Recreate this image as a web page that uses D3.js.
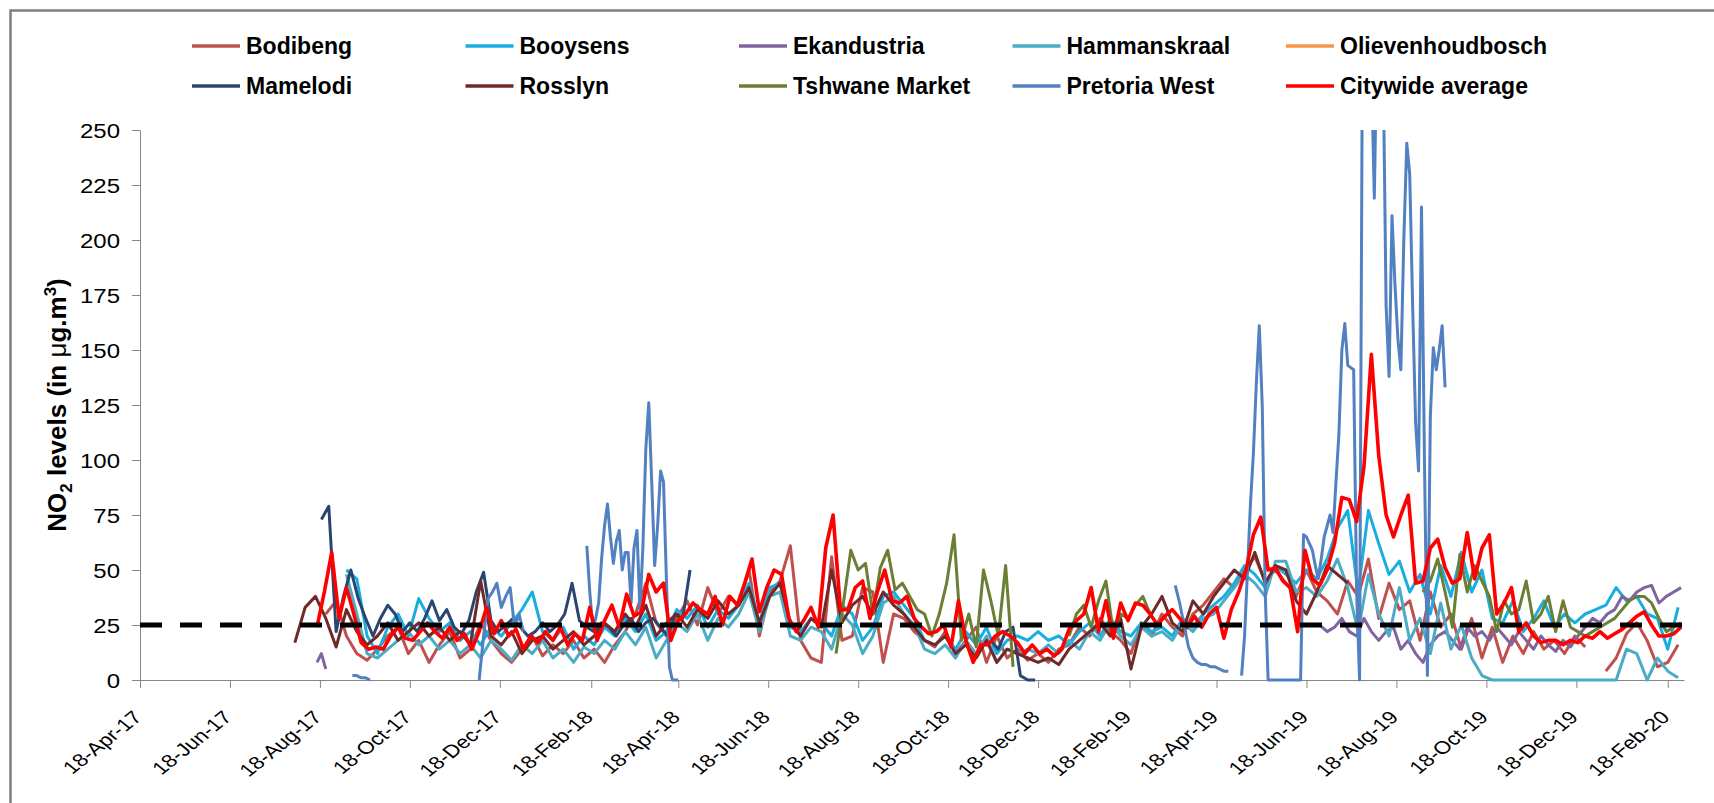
<!DOCTYPE html>
<html>
<head>
<meta charset="utf-8">
<script src="https://cdn.jsdelivr.net/npm/d3@7"></script>
<style>
  body { margin: 0; background: #fff; }
  svg { display: block; font-family: Arial, "Liberation Sans", sans-serif; }
</style>
</head>
<body>
<svg id="chart" width="1714" height="803"></svg>
<script>
// NO2 monitoring stations, Tshwane. Each series is a list of runs:
// [first date, days between readings, readings in µg/m³]; null = missing reading.
const seriesNames = ["Bodibeng", "Booysens", "Ekandustria", "Hammanskraal", "Olievenhoudbosch",
                     "Mamelodi", "Rosslyn", "Tshwane Market", "Pretoria West", "Citywide average"];
const seriesColors = ["#C0504D", "#1AADE0", "#8064A2", "#4BACC6", "#F79646",
                      "#2A4670", "#70292A", "#6A7F34", "#5181C0", "#FF0000"];

const bodibeng = [["2017-08-22", 7, [
  30,36,20,12,9,14,20,24,12,18, 8,16,22,10,14,26,18,12,8,14,
  20,11,16,12,18,10,14,8,16,22, 30,44,26,20,28,36,25,42,30,38,
  34,50,20,40,45,61,18,10,8,56, 18,20,42,40,8,30,28,22,18,15,
  22,12,18,24,8,20,10,14,9,12, 8,14,16,24,20,28,22,18,12,26,
  20,30,24,20,30,34,40,46,42,50, 56,45,50,44,38,50,40,36,30,45,
  38,55,28,44,32,36,18,40,24,30, 14,28,10,24,8,20,12,22,14,18,
  12,20,15,null,4,10,21,26,18,6, 8,16]]];

const booysens = [["2017-09-05", 7, [
  50,46,20,12,24,30,20,37,28,22, 26,18,22,16,24,20,26,32,40,22,
  18,24,14,20,16,24,20,28,22,30, 18,22,32,28,34,24,32,28,34,44,
  26,42,44,24,22,28,26,20,34,30, 18,24,38,40,34,28,18,16,20,14,
  22,16,24,12,18,20,18,22,18,20, 16,22,26,20,28,22,20,26,22,24,
  20,28,24,30,34,38,44,52,48,42, 52,48,44,50,46,55,69,77,40,77,
  62,48,54,40,48,30,52,38,58,40, 50,28,26,36,22,28,36,24,30,26,
  30,32,34,42,36,38,30,28,14,33]]];

const ekandustria = [
  ["2017-08-16", 3, [8,12,5]],
  ["2019-06-27", 5, [
    25,22,24,28,22,20,28,22,18,22, 24,14,18,12,8,16,20,22,18,14,
    24,20,22,18,24,20,16,22,18,14, 20,16,13,18,15,20,24,28,26,30,
    32,38,36,40,42,43,35,38,40,42]]];

const hammanskraal = [["2017-09-05", 7, [
  48,30,12,10,14,18,22,16,20,14, 18,12,16,10,18,14,9,16,12,18,
  10,14,8,15,12,18,14,22,16,24, 10,18,26,22,30,18,28,24,30,40,
  22,38,40,20,18,24,22,14,30,25, 12,20,35,38,30,25,14,12,16,10,
  18,12,20,8,14,12,14,12,16,12, 18,14,22,18,26,20,16,24,20,22,
  18,26,22,28,30,36,42,48,44,38, 54,54,40,42,38,45,55,42,22,48,
  30,20,42,18,28,12,35,14,25,10, 2,0,0,0,0,0,0,0,0,0,
  0,0,0,0,14,12,0,10,4,1]]];

const olievenhoudbosch = [];

const mamelodi = [
  ["2017-08-19", 5, [
    73,79,22,38,50,37,28,20,28,34, 30,22,26,22,28,36,27,32,24,21,
    27,40,49,27,22,25,28,24,20,22, 26,22,25,30,44,27,24,22,26,24,
    20,25,28,22,26,28,24,20,30,28, 50]],
  ["2018-11-16", 5, [18,14,22,24,2,0,0]]];

const rosslyn = [["2017-08-01", 7, [
  17,33,38,28,15,32,22,16,20,26, 18,22,26,20,24,18,22,16,45,20,
  16,22,12,18,20,14,18,22,16,20, 26,22,30,24,34,20,26,30,24,32,
  28,36,30,34,42,26,38,44,26,20, 28,24,50,26,34,38,30,40,34,30,
  24,18,16,20,12,16,10,18,8,14, 12,10,8,10,7,14,18,22,26,20,
  28,5,24,30,38,26,22,36,30,38, 44,50,46,58,44,52,50,36,30,40,
  52,48,44]]];

const tshwaneMarket = [
  ["2018-08-03", 5, [12,35,59,50,53,30,51,59,41,44, 38,32,30,20,30,44,66,18,30,15, 50,36,20,52,6]],
  ["2019-01-08", 5, [20,30,34,24,36,45,22,30,28,34,38,30]],
  ["2019-09-05", 5, [
    40,45,55,40,24,57,40,52,45,38, 22,36,30,32,45,26,30,38,22,36,
    24,22,20,22,24,26,28,32,36,38, 38,35,28,22,24,26]]];

const pretoriaWest = [
  ["2017-09-09", 3, [2,2,1,1,0]],
  ["2017-12-04", 3, [0,20,37,40,44,33,38,42,24,30,22]],
  ["2018-02-15", 2, [
    61,40,24,28,35,55,70,80,65,53, 63,68,50,58,58,35,60,68,32,60,
    105,126,90,52,70,95,90,45,6,0, 0,0]],
  ["2019-03-21", 3, [43,35,25,15,10,8,7,7,6,6,5,4,4]],
  ["2019-05-05", 2, [
    2,20,50,80,103,135,161,125,40,0, 0,0,0,0,0,0,0,0,0,0,
    0,66,65,62,59,52,46,55,65,70, 75,67,90,112,150,162,143,142,141,40,
    0,300,300,300,280,219,300,300,280,170, 138,211,180,155,141,200,244,230,170,117,
    95,215,100,2,120,151,141,150,161,133]]];

const citywideAverage = [["2017-08-16", 5, [
  24,40,58,28,42,30,17,14,15,14, 20,24,19,18,22,26,22,19,24,18,
  21,14,22,33,21,27,20,23,14,20, 17,22,18,24,16,21,18,33,18,27,
  34,24,39,29,31,48,40,44,18,27, 30,35,32,30,38,25,38,34,44,55,
  31,42,50,48,28,22,27,33,24,60, 75,32,32,42,45,28,40,50,36,35,
  38,28,24,21,22,25,15,36,18,8, 16,16,20,22,20,17,12,16,12,14,
  11,14,23,27,30,42,22,36,19,35, 27,35,34,30,25,29,32,28,24,29,
  24,30,33,19,32,40,50,66,74,50, 51,45,42,22,59,46,43,50,62,83,
  82,72,97,148,102,75,65,75,84,44, 45,60,64,51,44,46,67,46,60,66,
  30,35,42,22,26,20,17,18,18,16, 18,17,20,19,22,19,21,23,26,29,
  31,25,20,20,21,24]]];

const guidelineValue = 25;
const yTicks = [0, 25, 50, 75, 100, 125, 150, 175, 200, 225, 250];
const xTickDates = ["2017-04-18","2017-06-18","2017-08-18","2017-10-18","2017-12-18",
  "2018-02-18","2018-04-18","2018-06-18","2018-08-18","2018-10-18","2018-12-18",
  "2019-02-18","2019-04-18","2019-06-18","2019-08-18","2019-10-18","2019-12-18","2020-02-18"];
const xDomain = ["2017-04-18", "2020-02-29"];

const allSeries = [bodibeng, booysens, ekandustria, hammanskraal, olievenhoudbosch,
                   mamelodi, rosslyn, tshwaneMarket, pretoriaWest, citywideAverage];

// ---------------------------------------------------------------------------
const parse = d3.utcParse("%Y-%m-%d");
const fmt = d3.utcFormat("%d-%b-%y");
const plot = { left: 140, right: 1684, top: 130, bottom: 680 };

const x = d3.scaleUtc().domain(xDomain.map(parse)).range([plot.left, plot.right]);
const y = d3.scaleLinear().domain([0, 250]).range([plot.bottom, plot.top]);

const svg = d3.select("#chart");
const axisGrey = "#868686";

// chart frame
svg.append("rect")
  .attr("x", 10.5).attr("y", 10.5).attr("width", 2000).attr("height", 2000)
  .attr("fill", "none").attr("stroke", "#808080").attr("stroke-width", 2.5);

// clip for the plot area
svg.append("clipPath").attr("id", "plotClip")
  .append("rect")
  .attr("x", plot.left).attr("y", plot.top)
  .attr("width", plot.right - plot.left).attr("height", plot.bottom - plot.top + 3);

// y axis
const yAxis = svg.append("g")
  .attr("transform", `translate(${plot.left},0)`)
  .call(d3.axisLeft(y).tickValues(yTicks).tickSize(8).tickSizeOuter(0));
yAxis.select(".domain").attr("stroke", axisGrey);
yAxis.selectAll(".tick line").attr("stroke", axisGrey);
yAxis.selectAll(".tick text")
  .attr("x", null).attr("dy", null)
  .attr("text-anchor", "end")
  .attr("font-size", 19.5)
  .attr("fill", "#000")
  .attr("transform", "translate(-20,7) scale(1.23,1)");

// x axis, labels slanted
const xAxis = svg.append("g")
  .attr("transform", `translate(0,${plot.bottom})`)
  .call(d3.axisBottom(x).tickValues(xTickDates.map(parse)).tickFormat(fmt)
        .tickSize(8).tickSizeOuter(0));
xAxis.select(".domain").attr("stroke", axisGrey);
xAxis.selectAll(".tick line").attr("stroke", axisGrey);
xAxis.selectAll(".tick text")
  .attr("y", null).attr("dy", "0.35em")
  .attr("text-anchor", "end")
  .attr("font-size", 18)
  .attr("fill", "#000")
  .attr("transform", "translate(-3,34) scale(1.25,1) rotate(-45)");

// y axis title
const title = svg.append("text")
  .attr("transform", `translate(66,${(plot.top + plot.bottom) / 2}) rotate(-90)`)
  .attr("text-anchor", "middle")
  .attr("font-size", 26).attr("font-weight", "bold").attr("fill", "#000");
title.append("tspan").text("NO");
title.append("tspan").attr("dy", 6).attr("font-size", 17).text("2");
title.append("tspan").attr("dy", -6).text(" levels (in ");
title.append("tspan").attr("font-weight", "normal").text("\u03BC");
title.append("tspan").text("g.m");
title.append("tspan").attr("dy", -10).attr("font-size", 17).text("3");
title.append("tspan").attr("dy", 10).text(")");

// series lines
const toPoints = runs => {
  const pts = [];
  runs.forEach(([start, step, values]) => {
    const t0 = parse(start);
    values.forEach((v, i) => pts.push({ date: d3.utcDay.offset(t0, i * step), value: v }));
    pts.push({ date: null, value: null });
  });
  return pts;
};
const line = d3.line()
  .defined(d => d.value !== null)
  .x(d => x(d.date))
  .y(d => y(d.value));

const lines = svg.append("g").attr("clip-path", "url(#plotClip)");
allSeries.forEach((runs, i) => {
  lines.append("path")
    .datum(toPoints(runs))
    .attr("d", line)
    .attr("fill", "none")
    .attr("stroke", seriesColors[i])
    .attr("stroke-width", i === 9 ? 3.6 : 3)
    .attr("stroke-linejoin", "round");
});

// 25 µg/m³ guideline
svg.append("line")
  .attr("x1", plot.left).attr("x2", plot.right)
  .attr("y1", y(guidelineValue)).attr("y2", y(guidelineValue))
  .attr("stroke", "#000").attr("stroke-width", 5)
  .attr("stroke-dasharray", "22,18");

// legend: two rows of five
const legend = svg.append("g");
seriesNames.forEach((name, i) => {
  const col = i % 5, row = Math.floor(i / 5);
  const lx = 192 + col * 273.5, ly = 46 + row * 40;
  legend.append("line")
    .attr("x1", lx).attr("x2", lx + 48).attr("y1", ly).attr("y2", ly)
    .attr("stroke", seriesColors[i]).attr("stroke-width", 3.5);
  legend.append("text")
    .attr("x", lx + 54).attr("y", ly + 8)
    .attr("font-size", 23).attr("font-weight", "bold").attr("fill", "#000")
    .text(name);
});
</script>
</body>
</html>
